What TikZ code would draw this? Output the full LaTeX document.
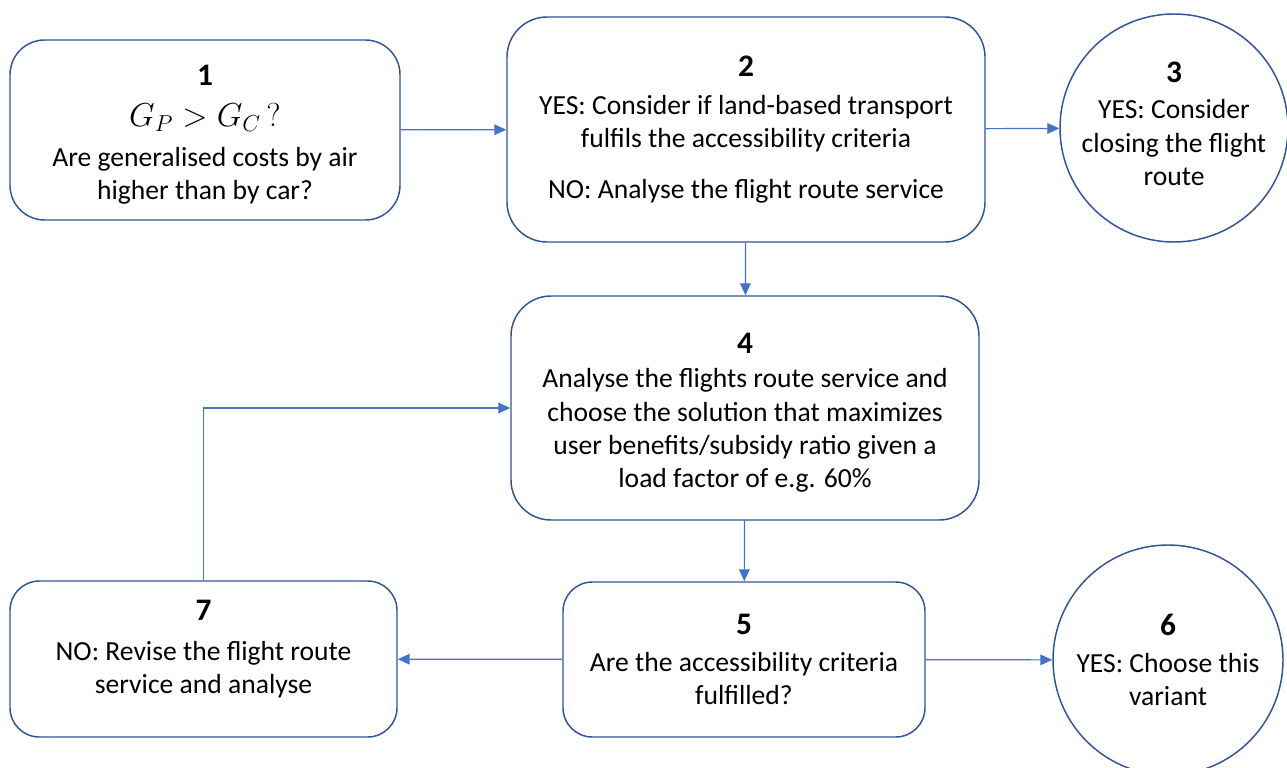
\documentclass[tikz,border=0pt]{standalone}
\usepackage{fontspec}
\setmainfont{Carlito}
\usepackage{amsmath}
\usetikzlibrary{arrows.meta}
\definecolor{edgeblue}{HTML}{2F5597}
\definecolor{arrowblue}{HTML}{4472C4}
\newcommand{\stepno}[1]{{\fontsize{23.5}{28}\selectfont\bfseries #1}}
\newcommand{\toppad}{\rule{0pt}{22.4pt}}

\begin{document}
\begin{tikzpicture}[x=0.75pt,y=-0.75pt,
  box/.style={draw=edgeblue,line width=1.1pt,fill=white,align=center,inner sep=0pt,
    font=\fontsize{20.7}{25}\selectfont},
  roundbox/.style={box,rectangle,rounded corners=26pt},
  endcircle/.style={box,circle},
  arrow/.style={draw=arrowblue,line width=0.9pt,-{Triangle[length=9pt,width=8pt]}}]
\useasboundingbox (0,0) rectangle (1287,767);
\clip (0,0) rectangle (1287,767);

\node[roundbox,minimum width=292.5pt,minimum height=135pt] at (205,130) (b1)
  {\toppad\stepno{1}\\[6pt] {\fontsize{23.5}{28}\selectfont$G_P > G_C\,\mathrm{?}$}\\[5pt] Are generalised costs by air\\ higher than by car?};
\node[roundbox,rounded corners=30pt,minimum width=358.5pt,minimum height=168.75pt] at (746,129.5) (b2)
  {\stepno{2}\\[3pt] YES: Consider if land-based transport\\ fulfils the accessibility criteria\\[13pt] NO: Analyse the flight route service};
\node[endcircle,minimum size=171pt] at (1174,128) (c3)
  {\stepno{3}\\[2pt] YES: Consider\\ closing the flight\\ route\\[-19pt]};
\node[roundbox,rounded corners=30pt,minimum width=351pt,minimum height=168pt] at (745,408) (b4)
  {\toppad\stepno{4}\\[1pt] Analyse the flights route service and\\ choose the solution that maximizes\\ user benefits/subsidy ratio given a\\ load factor of e.g. 60\%};
\node[roundbox,rounded corners=22pt,minimum width=271.5pt,minimum height=116.25pt] at (744,659.5) (b5)
  {\stepno{5}\\[3pt] Are the accessibility criteria\\ fulfilled?};
\node[endcircle,minimum size=172.5pt] at (1168,660) (c6)
  {\stepno{6}\\[3pt] YES: Choose this\\ variant};
\node[roundbox,rounded corners=22pt,minimum width=290.25pt,minimum height=117pt] at (203.5,659) (b7)
  {\stepno{7}\\[5pt] NO: Revise the flight route\\ service and analyse\\[-7pt]};

\draw[arrow] (b1) -- (b2);
\draw[arrow] (b2) -- (c3);
\draw[arrow] (b2) -- (b4);
\draw[arrow] (b4) -- (b5);
\draw[arrow] (b5) -- (b7);
\draw[arrow] (b5) -- (c6);
\draw[arrow] (b7.north) |- (b4.west);
\end{tikzpicture}
\end{document}
